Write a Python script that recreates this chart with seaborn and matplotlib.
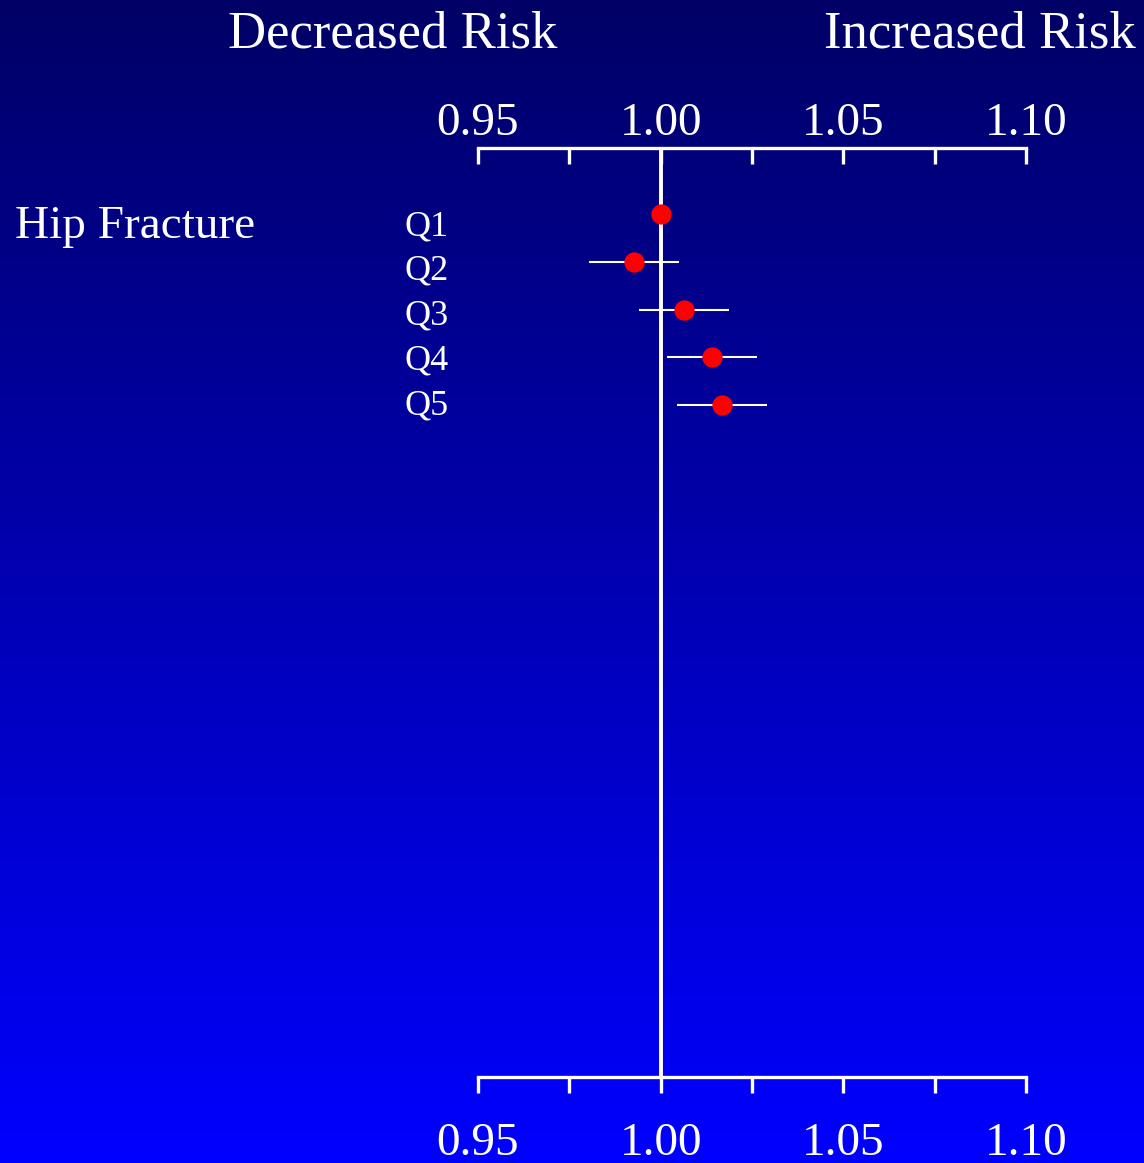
import numpy as np
import matplotlib
matplotlib.use("Agg")
import matplotlib.pyplot as plt
import seaborn as sns
import pandas as pd

# data
quintiles = ["Q1", "Q2", "Q3", "Q4", "Q5"]
rr = [1.000, 0.9927, 1.0064, 1.0141, 1.0168]
ci_low = [1.000, 0.9804, 0.9941, 1.0017, 1.0045]
ci_high = [1.000, 1.0050, 1.0187, 1.0264, 1.0291]
tick_major = [0.95, 1.00, 1.05, 1.10]
tick_minor = [0.975, 1.025, 1.075]
outcome = "Hip Fracture"

W, H = 1144, 1163
sns.set_style("white")
plt.rcParams["font.family"] = ["Liberation Serif", "DejaVu Serif"]

df = pd.DataFrame({"q": quintiles, "rr": rr, "lo": ci_low, "hi": ci_high,
                   "row": np.arange(len(quintiles))})

fig = plt.figure(figsize=(W / 100, H / 100), dpi=100)

# gradient background, navy at top to bright blue at bottom
bg = fig.add_axes([0, 0, 1, 1])
grad = np.linspace(0.40, 1.0, 256).reshape(-1, 1)
img = np.zeros((256, 1, 3))
img[:, :, 2] = grad[:, :]
bg.imshow(img, aspect="auto", extent=[0, 1, 0, 1], origin="upper")
bg.set_axis_off()

ax = fig.add_axes([478 / W, 1 - 1077 / H, 548 / W, 929 / H])
ax.patch.set_alpha(0)
ax.set_xlim(0.95, 1.10)
ax.set_ylim(18.07, -1.382)

ax.axvline(1.0, color="white", lw=2.8, zorder=1)
ax.hlines(df["row"], df["lo"], df["hi"], color="white", lw=1.5, zorder=2)
sns.scatterplot(data=df, x="rr", y="row", ax=ax, color="red", s=14.6 ** 2,
                linewidth=0, zorder=3, legend=False)
ax.set_xlabel("")
ax.set_ylabel("")
ax.set_yticks([])

for sp in ["left", "right"]:
    ax.spines[sp].set_visible(False)
ax.spines["bottom"].set_color("white")
ax.spines["bottom"].set_linewidth(2.4)
ax.spines["top"].set_visible(False)

ax.set_xticks(tick_major)
ax.set_xticklabels([f"{t:.2f}" for t in tick_major])
ax.set_xticks(tick_minor, minor=True)
ax.tick_params(axis="x", which="both", direction="out", length=11.5, width=2.4,
               color="white", labelcolor="white", labelsize=34, pad=21.5,
               bottom=True, top=False)

ax2 = ax.twiny()
ax2.set_xlim(0.95, 1.10)
for sp in ["left", "right", "bottom"]:
    ax2.spines[sp].set_visible(False)
ax2.spines["top"].set_color("white")
ax2.spines["top"].set_linewidth(2.4)
ax2.set_xticks(tick_major)
ax2.set_xticklabels([f"{t:.2f}" for t in tick_major])
ax2.set_xticks(tick_minor, minor=True)
ax2.tick_params(axis="x", which="both", direction="in", length=11.5, width=2.4,
                color="white", labelcolor="white", labelsize=34, pad=2)

# quintile labels: slightly tighter spacing than the rows
trans = ax.get_yaxis_transform()
for r, q in zip(df["row"], quintiles):
    ax.text(-0.053, (21 + 44.75 * r) / 47.75, q, transform=trans, ha="right",
            va="baseline", color="white", fontsize=26, clip_on=False)

fig.text(15 / W, 1 - 238 / H, outcome, color="white", fontsize=34,
         ha="left", va="baseline")
fig.text(228 / W, 1 - 48 / H, "Decreased Risk", color="white", fontsize=38,
         ha="left", va="baseline")
fig.text(824 / W, 1 - 48 / H, "Increased Risk", color="white", fontsize=38,
         ha="left", va="baseline")

fig.savefig("out.png", dpi=100)
